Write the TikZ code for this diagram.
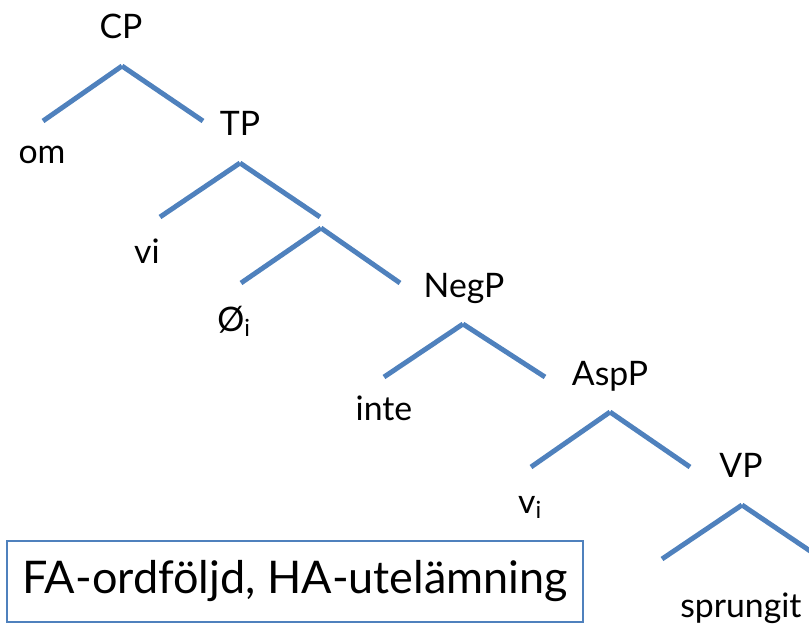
\documentclass[tikz,border=0pt]{standalone}
\usepackage{fontspec}
\setmainfont{Lato}
\definecolor{treeblue}{HTML}{4F81BD}
\tikzset{branch/.style={line width=3.5pt, treeblue},
    word/.style={anchor=base, inner sep=0pt, font=\fontsize{24}{28}\selectfont}}

\begin{document}
\begin{tikzpicture}[x=0.025cm, y=-0.025cm]
    \useasboundingbox (0,0) rectangle (809,625);
    \clip (0,0) rectangle (809,625);
    % labels
    \node[word] (cp) at (121,38) {CP};
    \node[word] (om) at (42,163) {om};
    \node[word] (tp) at (240,135) {TP};
    \node[word] (vi) at (147,263) {vi};
    \node[word] (trace) at (234,331) {Ø\textsubscript{i}};
    \node[word] (negp) at (464,297) {NegP};
    \node[word] (inte) at (384,420) {inte};
    \node[word] (aspp) at (610,385) {AspP};
    \node[word] (vtrace) at (530,513) {v\textsubscript{i}};
    \node[word] (vp) at (741,477) {VP};
    \node[word, anchor=base west] (sprungit) at (680,617) {sprungit};
    % branches
    \coordinate (cp-top) at (122,66);
    \coordinate (cp-l) at (43,121);
    \coordinate (cp-r) at (203,121);
    \coordinate (tp-top) at (240,163);
    \coordinate (tp-l) at (160,217);
    \coordinate (tp-r) at (320,217);
    \coordinate (tbar-top) at (321,228);
    \coordinate (tbar-l) at (241,283);
    \coordinate (tbar-r) at (400,283);
    \coordinate (negp-top) at (463,324);
    \coordinate (negp-l) at (384,377);
    \coordinate (negp-r) at (545,377);
    \coordinate (aspp-top) at (610,412);
    \coordinate (aspp-l) at (531,467);
    \coordinate (aspp-r) at (690,467);
    \coordinate (vp-top) at (742,505);
    \coordinate (vp-l) at (662,559);
    \coordinate (vp-r) at (822,559);
    \draw[branch] (cp-top) -- (cp-l);
    \draw[branch] (cp-top) -- (cp-r);
    \draw[branch] (tp-top) -- (tp-l);
    \draw[branch] (tp-top) -- (tp-r);
    \draw[branch] (tbar-top) -- (tbar-l);
    \draw[branch] (tbar-top) -- (tbar-r);
    \draw[branch] (negp-top) -- (negp-l);
    \draw[branch] (negp-top) -- (negp-r);
    \draw[branch] (aspp-top) -- (aspp-l);
    \draw[branch] (aspp-top) -- (aspp-r);
    \draw[branch] (vp-top) -- (vp-l);
    \draw[branch] (vp-top) -- (vp-r);
    % box
    \node[draw=treeblue, line width=1.4pt, minimum width=14.4cm, minimum height=2.025cm,
        inner sep=0pt, font=\fontsize{32}{38}\selectfont] (note) at (295,581.5) {FA-ordföljd, HA-utelämning};
\end{tikzpicture}
\end{document}
